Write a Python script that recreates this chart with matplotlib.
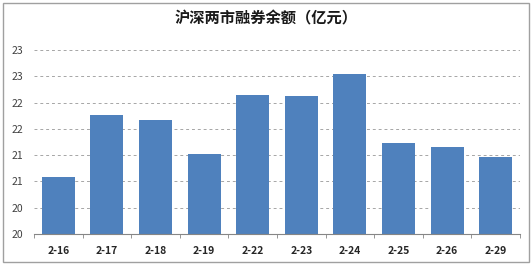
import matplotlib.pyplot as plt
import numpy as np
from matplotlib.patches import Rectangle

plt.rcParams['font.family'] = ['Noto Sans CJK SC', 'DejaVu Sans']

dates = ['2-16', '2-17', '2-18', '2-19', '2-22', '2-23', '2-24', '2-25', '2-26', '2-29']
balance = [21.08, 22.26, 22.17, 21.52, 22.64, 22.62, 23.04, 21.73, 21.65, 21.46]
y_ticks = [20.0, 20.5, 21.0, 21.5, 22.0, 22.5, 23.0, 23.5]
y_labels = ['20', '20', '21', '21', '22', '22', '23', '23']

fig = plt.figure(figsize=(5.32, 2.68), dpi=100)
fig.patches.append(Rectangle((0.006, 0.022), 0.988, 0.966, transform=fig.transFigure,
                             fill=False, edgecolor='#a0a0a0', linewidth=1))
ax = fig.add_axes([34 / 532, 1 - 234 / 268, (520 - 34) / 532, (234 - 50) / 268])

x = np.arange(len(dates))
ax.bar(x, balance, width=0.68, color='#4f81bd', zorder=2)
ax.set_xlim(-0.5, len(dates) - 0.5)
ax.set_ylim(20, 23.5)
ax.set_yticks(y_ticks)
ax.set_yticklabels(y_labels)
ax.yaxis.grid(True, linestyle=(0, (3, 3)), color='#a6a6a6', linewidth=0.7, zorder=0)
ax.tick_params(axis='y', length=0, pad=8, labelsize=7.5, labelcolor='#404040')

ax.set_xticks(x)
ax.set_xticklabels(dates, fontweight='bold')
ax.set_xticks(np.arange(-0.5, len(dates)), minor=True)
ax.tick_params(axis='x', which='major', length=0, pad=9, labelsize=7.5, labelcolor='#262626')
ax.tick_params(axis='x', which='minor', length=3, color='#868686', direction='out')

for s in ['top', 'right', 'left']:
    ax.spines[s].set_visible(False)
ax.spines['bottom'].set_color('#868686')
ax.spines['bottom'].set_linewidth(0.8)

fig.text(0.5, 1 - 18 / 268, '沪深两市融券余额（亿元）', ha='center', va='center',
         fontsize=11, fontweight='bold', color='#1a1a1a')

fig.savefig('out.png', dpi=100)
